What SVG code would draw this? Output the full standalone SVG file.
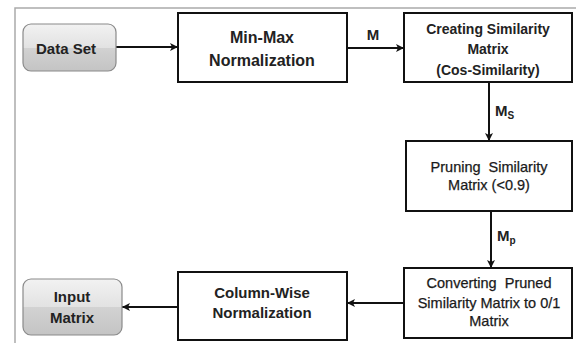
<svg xmlns="http://www.w3.org/2000/svg" width="576" height="343" viewBox="0 0 576 343">
<defs>
<linearGradient id="g" x1="0" y1="0" x2="0" y2="1">
<stop offset="0" stop-color="#f2f2f2"/>
<stop offset="0.5" stop-color="#e2e2e2"/>
<stop offset="0.5" stop-color="#d2d2d2"/>
<stop offset="1" stop-color="#c4c4c4"/>
</linearGradient>
<marker id="ah" markerWidth="10" markerHeight="10" viewBox="0 0 10 10" refX="9" refY="5" orient="auto" markerUnits="userSpaceOnUse">
<path d="M1,1 L9,5 L1,9 L3,5 Z" fill="#111"/>
</marker>
<style>
.box{fill:#fff;stroke:#111;stroke-width:2}
.term{fill:url(#g);stroke:#8a8a8a;stroke-width:1.2}
.b{font-family:"Liberation Sans",Arial,sans-serif;font-weight:bold;fill:#222;text-anchor:middle}
.r{font-family:"Liberation Sans",Arial,sans-serif;fill:#1a1a1a;text-anchor:middle;font-size:14.5px;white-space:pre;stroke:#1a1a1a;stroke-width:0.25}
.c{stroke:#111;stroke-width:2;fill:none;marker-end:url(#ah)}
</style>
</defs>
<rect width="576" height="343" fill="#fff"/>
<path d="M15,343 V8 H576" fill="none" stroke="#aaa" stroke-width="1.5"/>
<g id="connectors">
<line class="c" x1="116" y1="47" x2="178" y2="47"/>
<line class="c" x1="347" y1="48" x2="404" y2="48"/>
<line class="c" x1="489" y1="82" x2="489" y2="141"/>
<line class="c" x1="491" y1="211" x2="491" y2="268"/>
<line class="c" x1="404" y1="303" x2="347" y2="303"/>
<line class="c" x1="178" y1="307" x2="122" y2="307"/>
<text class="b" x="373" y="40" font-size="15">M</text>
<text class="b" x="495" y="116" font-size="15" style="text-anchor:start">M<tspan font-size="10" dy="3">S</tspan></text>
<text class="b" x="497" y="241" font-size="15" style="text-anchor:start">M<tspan font-size="10" dy="3">p</tspan></text>
</g>
<g id="dataset">
<rect class="term" x="23" y="24" width="93" height="47" rx="8"/>
<text class="b" x="66" y="54" font-size="15">Data Set</text>
</g>
<g id="minmax">
<rect class="box" x="178" y="13" width="169" height="69"/>
<text class="b" x="262" y="43" font-size="16">Min-Max</text>
<text class="b" x="262" y="66" font-size="16">Normalization</text>
</g>
<g id="creating">
<rect class="box" x="404" y="13" width="168" height="69"/>
<text class="b" x="488" y="34" font-size="14">Creating Similarity</text>
<text class="b" x="488" y="54" font-size="14">Matrix</text>
<text class="b" x="488" y="75" font-size="14">(Cos-Similarity)</text>
</g>
<g id="pruning">
<rect class="box" x="406" y="141" width="166" height="70"/>
<text class="r" x="489" y="172">Pruning  Similarity</text>
<text class="r" x="489" y="190">Matrix (&lt;0.9)</text>
</g>
<g id="converting">
<rect class="box" x="404" y="268" width="168" height="70"/>
<text class="r" x="489" y="288">Converting  Pruned</text>
<text class="r" x="489" y="308">Similarity Matrix to 0/1</text>
<text class="r" x="489" y="326">Matrix</text>
</g>
<g id="columnwise">
<rect class="box" x="178" y="272" width="169" height="68"/>
<text class="b" x="262" y="298" font-size="15">Column-Wise</text>
<text class="b" x="262" y="318" font-size="15">Normalization</text>
</g>
<g id="inputmatrix">
<rect class="term" x="23" y="279" width="99" height="56" rx="8"/>
<text class="b" x="72" y="302" font-size="15">Input</text>
<text class="b" x="72" y="323" font-size="15">Matrix</text>
</g>
</svg>
